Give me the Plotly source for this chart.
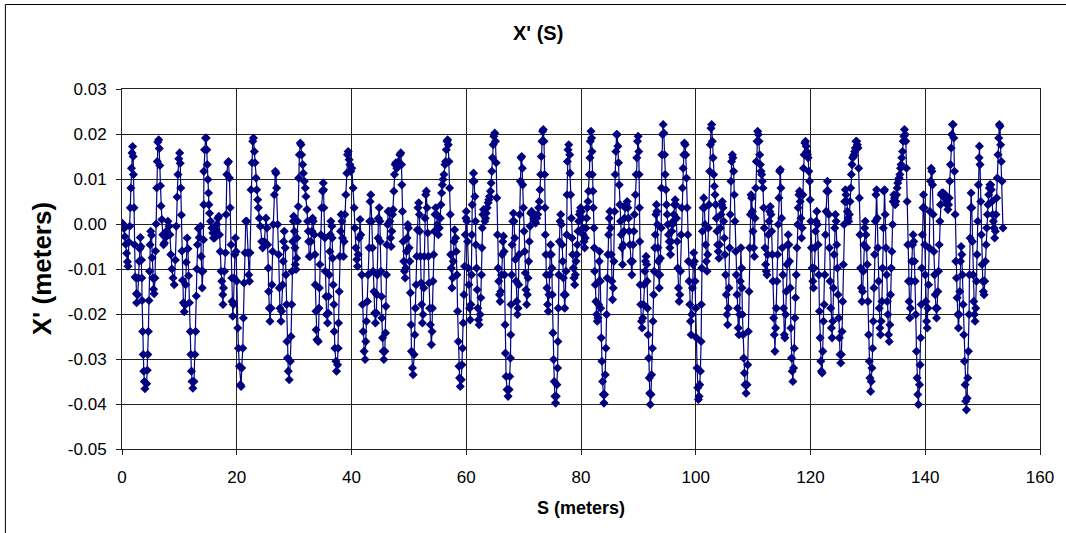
import plotly.graph_objects as go

# ---- data: (S in meters, X' in units of 1e-3 m) ----
seg_00_20 = [(0,0.2),(0.15,0.0),(0.35,-1.0),(0.5,-2.8),(0.65,-4.5),(0.8,-6.5),(0.95,-8.4),(1.05,-9.4),(1.2,-4.0),(1.35,-0.5),
(1.45,3.6),(1.55,8.0),(1.65,12.4),(1.75,15.8),(1.85,17.2),(1.95,15.0),(2.0,11.0),(2.1,3.6),(2.2,-4.6),(2.3,-11.8),
(2.45,-12.0),(2.5,-15.5),(2.55,-17.5),(2.75,-15.7),(2.85,-12.0),(3.0,-8.3),(3.1,-5.5),(3.2,-3.0),(3.3,-5.0),(3.4,-8.0),
(3.45,-12.0),(3.5,-17.0),(3.6,-23.9),(3.7,-29.0),(3.8,-32.7),(3.9,-35.0),(4.0,-36.6),(4.3,-35.5),(4.4,-32.5),(4.5,-29.0),
(4.6,-23.9),(4.7,-17.0),(4.8,-10.5),(4.9,-4.6),(5.0,-1.6),(5.15,-2.5),(5.25,-7.5),(5.35,-12.0),(5.5,-14.5),(5.6,-15.5),
(5.75,-12.0),(5.85,-6.0),(5.95,0.0),(6.05,8.0),(6.15,13.9),(6.25,18.2),(6.4,18.7),(6.5,16.8),(6.6,13.0),(6.7,8.5),
(6.8,4.0),(6.95,1.0),(7.1,-2.4),(7.25,-4.6),(7.4,-4.2),(7.6,-3.0),(7.8,-1.5),(8.0,0.6),(8.2,-0.5),(8.35,-2.4),
(8.5,-6.8),(8.7,-10.0),(8.9,-12.0),(9.1,-13.5),(9.3,-8.0),(9.45,-0.5),(9.6,6.0),(9.75,11.0),(9.9,14.5),(10.05,15.8),
(10.15,13.5),(10.25,8.0),(10.35,2.0),(10.45,-6.0),(10.55,-12.5),(10.7,-17.5),(10.85,-19.5),(11.0,-18.0),(11.1,-13.5),(11.2,-8.5),
(11.35,-3.1),(11.5,-5.5),(11.6,-11.5),(11.75,-17.5),(11.9,-23.9),(12.0,-29.0),(12.1,-32.7),(12.2,-35.0),(12.35,-36.5),(12.55,-35.0),
(12.7,-29.0),(12.85,-23.9),(12.95,-16.0),(13.05,-10.0),(13.15,-4.6),(13.3,-1.0),(13.45,-3.0),
(13.69,-0.5),(13.81,-7.2),(13.85,-10.5),(13.98,-14.2),(14.1,-10.5),(14.21,-3.5),(14.25,4.3),(14.27,11.7),(14.39,16.5),(14.56,19.1),
(14.68,19.1),(14.79,16.5),(14.85,13.2),(14.97,9.9),(15.08,6.9),(15.14,4.3),(15.26,2.4),(15.43,0.6),(15.66,-0.9),(15.84,-2.0),
(15.95,-3.1),(16.13,-3.1),(16.3,-2.4),(16.42,-1.3),(16.53,-0.1),(16.7,1.3),(16.88,1.7),(16.99,-2.4),(17.11,-6.1),(17.28,-10.5),
(17.4,-12.7),(17.57,-15.7),(17.6,-17.9),(17.69,-14.2),(17.86,-10.5),(18.04,-6.4),(18.15,2.1),(18.27,11.0),(18.44,13.6),(18.56,13.9),
(18.73,10.2),(18.85,3.6),(19.02,-4.6),(19.14,-12.0),(19.19,-17.2),(19.31,-20.5),(19.43,-17.9),(19.54,-12.0),(19.66,-6.8),(19.77,-3.1),
(19.89,-6.1),(20.0,-12.7)]

seg_20_40 = [(20.18,-23.1),(20.29,-27.6),(20.47,-31.6),(20.64,-35.7),(20.76,-36.1),(20.87,-32.0),(21.05,-27.6),(21.16,-20.9),(21.28,-13.1),(21.45,-6.4),
(21.57,0.6),(21.74,0.6),(21.92,-6.4),(22.09,-11.3),(22.21,-12.7),(22.32,-6.4),(22.49,7.6),(22.67,13.6),(22.78,18.4),(22.9,19.1),
(23.07,16.1),(23.19,13.6),(23.36,10.2),(23.48,7.6),(23.65,5.4),(23.77,3.6),(23.94,1.3),(24.12,-0.5),(24.35,-3.9),(24.52,-5.3),
(24.81,-3.9),(25.1,1.3),(25.27,-0.9),(25.39,-4.6),(25.51,-9.8),(25.56,-15.0),(25.68,-18.7),(25.79,-21.6),(25.97,-18.7),(26.14,-13.5),
(26.26,-6.1),(26.37,-0.1),(26.55,6.5),(26.72,11.7),(26.84,11.3),(26.95,8.0),(27.13,-0.1),(27.3,-6.8),(27.42,-14.2),(27.53,-18.7),
(27.71,-21.6),(27.82,-19.4),(28.0,-13.5),(28.11,-8.3),(28.17,-3.9),(28.28,-1.6),(28.46,-5.3),(28.57,-11.3),(28.69,-17.9),(28.75,-26.1),
(28.86,-29.8),(28.98,-32.7),(29.15,-34.6),
(29.34,-30.5),(29.46,-25.0),(29.58,-17.9),(29.63,-10.5),(29.75,-3.9),(29.86,0.6),(29.92,1.7),(30.04,-1.6),(30.15,-5.3),(30.21,-9.0),
(30.33,-10.1),(30.44,-7.6),(30.5,-3.1),(30.62,0.6),(30.73,3.9),(30.79,10.2),(30.91,15.4),(31.08,18.0),(31.2,17.6),(31.31,15.4),
(31.49,13.2),(31.6,11.3),(31.78,9.5),(31.95,8.0),(32.07,6.1),(32.24,3.2),(32.35,0.6),(32.47,-1.6),(32.53,-3.9),(32.64,-7.2),
(32.82,-7.2),(32.93,-3.9),(33.11,-1.6),(33.22,1.3),(33.34,0.6),(33.51,-2.4),(33.63,-6.8),(33.69,-13.5),(33.8,-19.4),(33.83,-23.5),
(33.98,-25.7),(34.21,-26.1),(34.32,-18.7),(34.38,-14.2),(34.5,-9.0),(34.67,-2.4),(34.79,3.6),(34.96,7.3),(35.08,9.1),(35.13,7.6),
(35.19,3.6),(35.37,-3.1),(35.42,-10.5),(35.54,-16.1),(35.65,-20.1),(35.83,-22.0),(35.94,-19.8),(36.0,-16.1),(36.12,-11.3),(36.23,-6.1),
(36.29,-2.4),(36.41,0.6),(36.58,-0.5),(36.64,-3.1),(36.7,-7.6),(36.81,-13.5),(36.93,-17.9),(36.99,-23.9),(37.1,-27.6),(37.28,-30.5),
(37.39,-32.7),(37.57,-31.3),(37.68,-27.6),(37.74,-22.0),(37.86,-15.0),(37.97,-7.2),(38.09,-1.6),(38.2,2.1),(38.32,0.6),(38.43,-3.1),
(38.61,-7.2),(38.72,-3.9),(38.84,2.1),(39.01,6.5),(39.19,11.3),(39.3,15.4),(39.42,16.1),(39.59,14.3),(39.71,13.2),(39.88,11.7)]

seg_40_60 = [(40.06,12.4),(40.29,8.0),(40.46,3.6),(40.58,-0.9),(40.75,-5.3),(40.92,-7.9),(41.04,-9.4),(41.16,-6.8),(41.33,-3.1),(41.5,1.0),
(41.62,-2.4),(41.79,-11.3),(41.91,-17.9),(42.02,-23.9),(42.2,-28.3),(42.37,-30.1),(42.49,-26.1),(42.6,-21.6),(42.78,-17.2),(42.89,-11.3),
(43.07,-5.3),(43.18,0.6),(43.24,5.0),(43.36,6.5),(43.53,0.6),(43.65,-5.3),(43.76,-10.5),(43.93,-15.0),(44.05,-19.8),(44.17,-22.0),
(44.34,-19.8),(44.4,-15.7),(44.51,-11.3),(44.63,-3.1),(44.69,1.3),(44.83,3.6),(44.95,0.6),(45.0,-3.9),(45.12,-10.5),(45.24,-16.1),
(45.29,-20.9),(45.41,-25.3),(45.52,-28.3),(45.64,-30.1),(45.81,-28.3),(45.93,-24.2),(45.99,-18.3),(46.1,-11.3),(46.16,-4.6),(46.28,-0.1),
(46.39,2.8),(46.57,2.8),(46.68,0.6),(46.8,-3.1),(46.91,-5.0),(47.03,-1.6),(47.15,2.1),(47.26,3.2),(47.38,7.3),(47.49,11.0),
(47.61,13.2),(47.73,13.6),(47.9,12.4),(48.01,12.8),(48.19,13.9),(48.42,15.4),(48.59,15.8),(48.71,13.2),(48.77,8.7),(48.88,2.8),
(49.0,-3.9),(49.11,-8.3),(49.23,-10.5),(49.35,-12.0),(49.46,-9.8),(49.58,-6.1),(49.69,-3.1),(49.81,-0.1),(49.93,-0.9),(50.04,-5.3),
(50.16,-8.3),(50.27,-15.3),(50.39,-22.4),(50.45,-28.3),(50.62,-32.0),(50.74,-33.5),(50.91,-29.0),(51.03,-24.6),(51.14,-18.7),(51.26,-13.5),
(51.37,-7.2),(51.49,-1.3),(51.6,3.6),(51.72,4.7),(51.84,2.1),(51.89,-1.6),(52.01,-7.2),(52.13,-13.1),(52.24,-17.9),(52.36,-22.0),
(52.47,-20.1),(52.59,-14.2),(52.7,-7.2),(52.82,1.3),(52.94,6.5),(53.05,7.3),(53.17,3.6),(53.28,-2.0),(53.4,-7.2),(53.52,-13.1),
(53.63,-18.7),(53.75,-22.4),(53.92,-26.8),(54.04,-23.9),(54.1,-18.7),(54.21,-12.7),(54.33,-6.8),(54.44,-1.6),(54.56,2.1),(54.67,3.6),
(54.85,2.1),(54.96,-0.1),(55.14,-2.4),(55.31,-0.9),(55.48,1.3),(55.6,4.3),(55.71,6.9),(55.83,8.7),(55.95,9.9),(56.12,11.0),
(56.29,13.2),(56.41,13.9),(56.53,16.5),(56.64,18.4),(56.76,18.7),(56.87,17.6),(56.99,13.9),(57.1,8.0),(57.22,2.1),(57.28,-6.8),
(57.39,-9.8),(57.51,-14.2),(57.63,-12.0),(57.74,-8.3),(57.86,-3.9),(57.97,-1.3),(58.15,-3.1),(58.26,-6.1),(58.38,-11.3),(58.49,-19.4),
(58.61,-26.1),(58.73,-31.6),(58.84,-34.2),(58.96,-36.1),(59.13,-34.6),(59.25,-31.3),(59.36,-27.6),(59.48,-22.0),(59.59,-15.7),(59.71,-9.4),
(59.83,-2.4),(59.94,1.3)]

seg_60_80 = [(60.0,2.8),(60.12,0.6),(60.23,-3.9),(60.35,-9.8),(60.46,-13.5),(60.58,-18.7),(60.69,-21.3),(60.81,-17.9),(60.92,-11.3),(60.98,-2.4),
(61.04,4.3),(61.15,9.5),(61.27,11.3),(61.39,9.5),(61.5,6.1),(61.62,0.6),(61.68,-4.6),(61.79,-9.8),(61.91,-14.6),(62.02,-18.7),
(62.14,-21.3),(62.25,-22.4),(62.43,-20.1),(62.54,-16.4),(62.66,-11.3),(62.72,-5.3),(62.78,-0.9),(62.89,2.1),(63.01,3.2),(63.12,2.1),
(63.24,0.6),(63.36,1.3),(63.47,2.4),(63.64,3.6),(63.82,4.7),(63.93,5.4),(64.05,6.1),(64.22,7.3),(64.34,9.1),(64.46,11.7),
(64.57,14.7),(64.69,17.6),(64.8,19.5),(64.98,20.2),(65.09,18.4),(65.21,13.6),(65.32,5.8),(65.44,-2.4),(65.56,-9.8),(65.67,-12.7),
(65.79,-15.7),(65.9,-17.2),(66.02,-15.0),(66.13,-11.3),(66.25,-6.8),(66.37,-3.9),(66.48,-2.7),(66.6,-6.1),(66.66,-11.3),(66.77,-22.4),
(66.83,-28.7),(66.94,-33.9),(67.12,-36.8),(67.29,-38.3),(67.47,-36.8),(67.58,-33.9),(67.7,-29.8),(67.76,-24.6),(67.81,-17.9),(67.93,-11.3),
(67.99,-4.6),(68.1,0.6),(68.22,2.4),(68.33,0.6),(68.45,-3.1),(68.57,-7.9),(68.68,-12.7),(68.8,-17.2),(68.91,-20.1),(69.03,-18.7),
(69.15,-13.5),(69.2,-6.8),(69.32,2.1),(69.43,9.5),(69.55,14.7),(69.67,15.0),(69.78,12.4),(69.84,8.7),(69.96,3.6),(70.07,-1.6),
(70.19,-6.1),(70.3,-10.9),(70.42,-14.6),(70.53,-17.9),(70.65,-15.7),(70.77,-12.0),(70.88,-8.3),(71.0,-3.9),(71.11,-0.5),(71.23,2.4),
(71.4,2.8),(71.58,2.1),(71.75,1.3),(71.92,0.6),(72.1,0.2),(72.27,1.3),(72.45,2.1),(72.62,3.6),(72.73,5.0),(72.85,7.6),
(72.97,11.0),(73.08,15.0),(73.2,18.4),(73.31,20.6),(73.43,21.0),(73.55,18.4),(73.66,11.0),(73.72,3.6),(73.78,-2.4),(73.89,-6.8),
(73.95,-11.3),(74.07,-14.2),(74.18,-17.9),(74.3,-19.4),(74.41,-15.7),(74.53,-11.3),(74.59,-6.8),(74.7,-4.6),(74.82,-6.8),(74.93,-9.8),
(74.99,-15.7),(75.11,-24.2),(75.22,-30.1),(75.34,-35.0),(75.46,-38.3),(75.57,-39.8),(75.69,-38.3),(75.8,-35.7),(75.92,-32.0),(75.98,-26.1),
(76.04,-18.7),(76.12,-11.3),(76.24,-3.9),(76.35,0.6),(76.47,2.1),(76.58,-0.1),(76.7,-4.6),(76.81,-8.3),(76.93,-12.0),(77.05,-15.7),
(77.16,-18.7),(77.28,-15.7),(77.39,-10.5),(77.51,-2.4),(77.57,6.5),(77.63,13.9),(77.74,16.5),(77.86,17.6),(78.03,15.4),(78.09,11.3),
(78.2,6.5),(78.32,1.3),(78.44,-3.1),(78.55,-6.8),(78.67,-9.8),(78.78,-12.0),(78.9,-13.5),(79.02,-11.3),(79.13,-8.3),(79.25,-6.8),
(79.36,-4.6),(79.48,-1.6),(79.59,0.6),(79.71,2.1),(79.83,2.8),(79.94,3.6)]

seg_80_100 = [(80.06,2.8),(80.17,1.3),(80.29,-0.9),(80.4,-2.4),(80.52,-3.9),(80.64,-5.3),(80.75,-3.1),(80.87,-0.9),(80.98,1.3),(81.1,3.6),
(81.22,5.0),(81.33,7.3),(81.45,11.0),(81.56,14.7),(81.62,18.4),(81.74,20.6),(81.85,19.1),(81.91,16.1),(81.97,11.0),(82.08,7.3),
(82.14,3.6),(82.26,-0.9),(82.32,-5.3),(82.37,-10.5),(82.49,-13.5),(82.6,-17.2),(82.72,-20.1),(82.84,-21.6),(82.95,-20.9),(83.07,-17.9),
(83.13,-12.7),(83.18,-8.3),(83.24,-6.1),(83.36,-12.7),(83.42,-18.7),(83.53,-25.3),(83.65,-30.5),(83.76,-35.0),(83.88,-37.9),(84.0,-39.8),
(84.11,-37.9),(84.23,-33.5),(84.34,-27.6),(84.46,-20.1),(84.57,-12.0),(84.69,-6.8),(84.81,-2.4),(84.92,1.3),(85.04,2.8),(85.15,-0.9),
(85.27,-6.8),(85.38,-12.7),(85.5,-16.8),(85.62,-14.2),(85.73,-8.3),(85.85,2.8),(85.96,11.0),(86.08,16.1),(86.19,19.9),(86.31,19.9),
(86.43,17.3),(86.54,13.6),(86.66,8.7),(86.77,4.3),(86.89,0.6),(87.01,-2.4),(87.12,-5.3),(87.24,-9.0),(87.35,-4.6),(87.47,-1.6),
(87.58,1.3),(87.7,3.6),(87.87,4.3),(88.05,5.0),(88.16,3.6),(88.28,1.3),(88.39,-1.6),(88.51,-4.6),(88.68,-8.3),(88.86,-11.3),
(88.97,-8.3),(89.09,-4.6),(89.21,-1.6),(89.32,2.1),(89.49,6.5),(89.61,11.0),(89.73,14.7),(89.84,18.4),(89.96,19.5),(90.07,16.1),
(90.13,11.0),(90.19,3.6),(90.25,-3.9),(90.31,-13.5),(90.42,-17.9),(90.54,-21.6),(90.65,-23.1),(90.77,-20.9),(90.88,-17.9),(91.0,-13.5),
(91.12,-10.5),(91.23,-8.3),(91.35,-7.2),(91.46,-9.0),(91.52,-12.7),(91.58,-18.7),(91.7,-24.6),(91.81,-29.8),(91.9,-34.2),(91.98,-37.6),
(92.08,-40.1),(92.2,-37.9),(92.3,-33.5),(92.45,-27.6),(92.55,-21.6),(92.65,-15.7),(92.75,-10.5),(92.85,-5.3),(92.95,-2.4),(93.05,2.1),
(93.15,4.3),(93.23,2.8),(93.32,-0.1),(93.4,-5.3),(93.48,-8.3),(93.56,-11.3),(93.64,-14.2),(93.74,-11.3),(93.84,-7.6),(93.98,-0.9),
(94.03,8.0),(94.09,15.4),(94.21,19.9),(94.32,22.1),(94.44,20.2),(94.56,15.4),(94.67,11.0),(94.79,7.6),(94.9,4.3),(95.02,2.1),
(95.13,-0.1),(95.25,-2.4),(95.37,-3.9),(95.48,-5.3),(95.6,-6.8),(95.71,-3.9),(95.83,-1.6),(95.94,-0.1),(96.06,0.6),(96.18,2.1),
(96.29,4.3),(96.41,5.4),(96.52,4.3),(96.64,1.3),(96.76,-3.9),(96.87,-9.8),(96.99,-14.2),(97.1,-17.2),(97.22,-15.7),(97.33,-10.5),
(97.45,-2.4),(97.57,3.6),(97.68,8.0),(97.8,12.4),(97.91,15.4),(98.03,18.0),(98.14,17.6),(98.26,15.4),(98.38,10.2),(98.49,3.6),
(98.61,-2.4),(98.72,-8.3),(98.84,-12.7),(98.96,-17.9),(99.07,-21.6),(99.19,-24.6),(99.3,-20.1),(99.42,-14.2),(99.53,-9.0),(99.65,-6.4),
(99.77,-8.3),(99.88,-12.7)]

seg_100_120 = [(100.0,-18.7),(100.12,-25.3),(100.23,-32.0),(100.35,-36.4),(100.46,-39.0),(100.58,-38.3),(100.69,-35.7),(100.81,-32.7),(100.93,-26.1),(100.98,-17.9),
(101.04,-9.8),(101.16,-1.6),(101.27,3.6),(101.39,5.8),(101.5,3.6),(101.62,-0.1),(101.73,-4.6),(101.85,-8.3),(101.97,-10.5),(102.08,-6.8),
(102.2,-0.9),(102.31,4.3),(102.43,11.7),(102.55,17.6),(102.66,21.3),(102.78,22.1),(102.89,18.4),(103.01,14.7),(103.12,11.0),(103.24,8.4),
(103.36,6.5),(103.47,4.3),(103.59,1.3),(103.7,-1.6),(103.82,-4.6),(103.93,-6.1),(104.05,-7.6),(104.17,-4.6),(104.28,-0.9),(104.4,2.1),
(104.51,4.3),(104.63,5.0),(104.75,3.6),(104.86,0.6),(104.98,-3.1),(105.09,-6.8),(105.21,-11.3),(105.32,-15.7),(105.44,-20.1),(105.56,-22.4),
(105.67,-18.7),(105.79,-14.2),(105.9,-5.3),(106.02,2.1),(106.14,9.5),(106.25,13.9),(106.37,15.4),(106.48,14.7),(106.6,11.7),(106.71,6.5),
(106.83,0.6),(106.95,-6.1),(107.06,-11.3),(107.18,-15.7),(107.29,-18.7),(107.41,-23.1),(107.52,-24.6),(107.64,-20.1),(107.76,-12.7),(107.87,-5.3),
(108.0,-9.8),(108.06,-14.2),(108.13,-20.1),(108.25,-24.6),(108.36,-29.8),(108.48,-33.1),(108.59,-35.7),(108.77,-37.6),(108.94,-35.7),(109.06,-31.3),
(109.17,-23.9),(109.29,-15.0),(109.4,-5.3),(109.52,2.1),(109.64,6.5),(109.75,5.8),(109.87,2.8),(109.98,-1.6),(110.1,-5.3),(110.22,-7.2),
(110.33,1.3),(110.45,8.0),(110.56,13.9),(110.68,18.4),(110.79,20.6),(110.91,19.9),(111.03,18.4),(111.14,15.4),(111.26,13.2),(111.37,11.7),
(111.49,11.0),(111.6,9.5),(111.72,8.0),(111.84,3.6),(111.95,-0.9),(112.07,-5.3),(112.18,-9.0),(112.3,-10.5),(112.42,-11.3),(112.53,-6.8),
(112.65,-2.4),(112.76,0.6),(112.88,2.8),(112.99,3.9),(113.11,2.1),(113.23,-1.6),(113.34,-6.8),(113.46,-12.7),(113.57,-20.9),(113.69,-24.6),
(113.8,-28.3),(113.92,-23.1),(114.04,-18.7),(114.15,-12.7),(114.27,-6.8),(114.38,-0.1),(114.5,5.8),(114.62,11.7),(114.73,12.1),(114.85,8.0),
(114.96,1.3),(115.08,-5.3),(115.19,-11.3),(115.31,-18.7),(115.43,-24.6),(115.54,-25.3),(115.66,-20.1),(115.77,-15.0),(115.89,-9.0),(116.0,-4.6),
(116.12,-2.4),(116.24,-4.6),(116.35,-8.3),(116.47,-14.2),(116.58,-23.1),(116.7,-29.8),(116.82,-32.7),(116.93,-35.0),(117.05,-32.0),(117.16,-27.6),
(117.28,-20.9),(117.39,-16.4),(117.51,-11.3),(117.63,-5.3),(117.74,-0.1),(117.86,3.6),(117.97,6.5),(118.09,7.3),(118.21,5.0),(118.32,1.3),
(118.44,-3.1),(118.55,-0.9),(118.67,6.5),(118.78,12.4),(118.9,15.4),(119.02,18.0),(119.13,18.4),(119.25,17.3),(119.36,16.1),(119.48,15.4),
(119.59,14.7),(119.71,11.7),(119.83,9.5),(119.94,5.4)]

seg_120_140 = [(120.06,0.6),(120.17,-5.3),(120.29,-9.8),(120.41,-12.7),(120.52,-14.2),(120.64,-9.8),(120.75,-5.3),(120.87,-1.6),(120.98,0.6),(121.1,2.8),
(121.22,-0.1),(121.33,-4.6),(121.45,-11.3),(121.56,-19.4),(121.68,-25.3),(121.8,-30.5),(121.91,-32.7),(122.03,-33.1),(122.14,-28.3),(122.26,-21.6),
(122.38,-17.9),(122.49,-11.3),(122.61,-2.4),(122.72,2.8),(122.84,7.3),(122.95,9.5),(123.07,7.3),(123.18,2.1),(123.3,-5.3),(123.41,-12.7),
(123.53,-18.7),(123.64,-23.1),(123.76,-25.3),(123.88,-21.6),(123.99,-14.2),(124.11,-6.8),(124.22,-0.9),(124.34,2.1),(124.46,0.6),(124.57,-4.6),
(124.69,-9.8),(124.8,-15.7),(124.92,-20.9),(125.03,-25.3),(125.15,-29.0),(125.27,-30.9),(125.38,-29.0),(125.5,-23.9),(125.61,-17.2),(125.73,-9.0),
(125.85,-0.1),(125.96,5.0),(126.08,7.6),(126.19,6.5),(126.31,5.0),(126.42,2.8),(126.54,1.3),(126.66,0.6),(126.77,2.1),(126.89,5.0),
(127.0,8.0),(127.12,11.0),(127.23,13.2),(127.35,14.7),(127.47,15.0),(127.58,15.4),(127.7,16.1),(127.81,16.9),(127.93,18.4),(128.05,18.4),
(128.16,17.6),(128.28,16.9),(128.39,12.4),(128.51,5.8),(128.62,-2.4),(128.74,-9.8),(128.86,-14.2),(128.97,-17.2),(129.09,-15.0),(129.2,-10.5),
(129.32,-4.6),(129.43,-0.9),(129.55,0.6),(129.67,-2.4),(129.78,-5.3),(129.9,-9.0),(130.01,-17.2),(130.13,-24.6),(130.25,-30.5),(130.36,-34.2),
(130.48,-37.2),(130.59,-35.0),(130.71,-32.0),(130.82,-27.6),(130.94,-21.6),(131.06,-14.2),(131.17,-6.8),(131.29,0.6),(131.4,6.5),(131.52,7.6),
(131.64,1.3),(131.75,-5.3),(131.87,-12.7),(131.98,-18.7),(132.1,-23.1),(132.21,-24.6),(132.33,-21.6),(132.45,-17.2),(132.56,-9.8),(132.68,-0.9),
(132.79,7.3),(132.91,7.6),(133.02,2.1),(133.14,-5.3),(133.26,-11.3),(133.37,-17.2),(133.49,-20.1),(133.6,-24.6),(133.72,-26.1),(133.84,-22.4),
(133.95,-15.7),(134.07,-9.8),(134.18,-6.1),(134.3,-0.1),(134.41,5.0),(134.53,6.5),(134.65,5.8),(134.76,4.3),(134.88,5.0),(134.99,6.5),
(135.11,8.0),(135.22,9.1),(135.34,9.9),(135.46,10.2),(135.57,11.0),(135.69,12.4),(135.8,13.2),(135.92,14.7),(136.04,16.1),(136.15,18.4),
(136.27,19.5),(136.38,21.0),(136.5,19.9),(136.61,18.4),(136.73,12.4),(136.84,5.0),(136.96,-4.6),(137.08,-12.7),(137.19,-17.2),(137.31,-20.9),
(137.42,-18.7),(137.54,-12.7),(137.66,-8.3),(137.77,-4.6),(137.89,-2.4),(138.0,-3.9),(138.12,-8.3),(138.24,-12.7),(138.35,-20.1),(138.47,-28.3),
(138.58,-34.2),(138.7,-37.9),(138.81,-40.1),(139.0,-35.7),(139.1,-31.3),(139.2,-25.3),(139.3,-17.9),(139.4,-9.8),(139.5,-2.4),(139.6,3.6),
(139.7,6.5),(139.8,3.6),(139.9,-4.6)]

seg_140_154 = [(140.0,-11.3),(140.12,-17.2),(140.23,-21.6),(140.35,-23.1),(140.46,-18.7),(140.58,-13.5),(140.69,-5.3),(140.81,2.8),(140.93,9.5),(141.04,12.4),
(141.16,11.7),(141.27,8.7),(141.39,2.1),(141.5,-6.1),(141.62,-11.3),(141.74,-15.7),(141.85,-18.7),(141.97,-20.9),(142.08,-18.7),(142.2,-15.0),
(142.31,-10.5),(142.43,-4.6),(142.55,0.6),(142.66,4.3),(142.78,6.5),(142.89,6.9),(143.01,6.9),(143.13,6.9),(143.24,6.5),(143.36,5.8),
(143.47,6.5),(143.59,5.8),(143.7,5.0),(143.82,4.3),(143.94,3.2),(144.05,4.3),(144.17,5.8),(144.28,9.5),(144.4,13.2),(144.52,16.9),
(144.63,19.9),(144.75,22.1),(144.86,22.1),(144.98,19.1),(145.09,11.7),(145.21,2.1),(145.33,-8.3),(145.44,-12.0),(145.56,-16.4),(145.67,-20.1),
(145.79,-23.1),(145.91,-20.1),(146.02,-15.0),(146.14,-8.3),(146.25,-5.0),(146.37,-6.8),(146.48,-11.3),(146.6,-17.9),(146.72,-24.6),(146.83,-30.5),
(146.95,-35.7),(147.06,-39.4),(147.18,-41.3),(147.3,-38.7),(147.41,-34.2),(147.53,-28.3),(147.64,-20.1),(147.7,-11.3),(147.82,-3.1),(147.93,3.6),
(147.99,6.9),(148.11,3.6),(148.22,-3.9),(148.34,-11.3),(148.45,-17.2),(148.57,-20.1),(148.68,-21.6),(148.8,-18.7),(148.92,-12.7),(149.03,-6.8),
(149.15,0.6),(149.26,8.7),(149.38,14.7),(149.44,17.3),(149.55,13.2),(149.67,5.0),(149.78,-2.4),(149.9,-9.0),(150.02,-12.7),(150.13,-15.0),
(150.25,-15.7),(150.36,-12.7),(150.48,-8.3),(150.59,-4.6),(150.71,-0.9),(150.83,2.1),(150.94,4.3),(151.06,6.5),(151.17,8.0),(151.29,8.7),
(151.41,8.7),(151.52,7.6),(151.64,5.0),(151.75,2.1),(151.87,0.6),(151.98,-0.9),(152.1,-3.1),(152.22,-1.6),(152.33,2.1),(152.45,5.8),
(152.56,10.2),(152.68,15.4),(152.8,19.1),(152.91,22.1),(153.03,21.7),(153.14,17.6),(153.26,13.9),(153.38,9.5),(153.55,-0.9)]

x_tick_vals = [0, 20, 40, 60, 80, 100, 120, 140, 160]
y_tick_vals = [0.03, 0.02, 0.01, 0.0, -0.01, -0.02, -0.03, -0.04, -0.05]
y_tick_text = ["0.03", "0.02", "0.01", "0.00", "-0.01", "-0.02", "-0.03", "-0.04", "-0.05"]

segments = [seg_00_20, seg_20_40, seg_40_60, seg_60_80, seg_80_100, seg_100_120, seg_120_140, seg_140_154]
s_vals = [p[0] for seg in segments for p in seg]
xp_vals = [p[1] / 1000.0 for seg in segments for p in seg]

NAVY = "#000080"
FONT = "Arial, Liberation Sans, Helvetica, sans-serif"
GRID = "#222222"

fig = go.Figure()
fig.add_trace(go.Scatter(
    x=s_vals, y=xp_vals, mode="lines+markers",
    line=dict(color=NAVY, width=1.2),
    marker=dict(symbol="diamond", size=7, color=NAVY, line=dict(width=0)),
    showlegend=False, hoverinfo="x+y"))

L, R, T, B = 122, 23, 89, 84
W, H = 1066, 533
pw, ph = W - L - R, H - T - B

def px_x(px):
    return (px - L) / pw

def px_y(py):
    return (H - B - py) / ph

fig.update_layout(
    width=W, height=H,
    margin=dict(l=L, r=R, t=T, b=B, pad=0),
    paper_bgcolor="white", plot_bgcolor="white",
    font=dict(family=FONT, color="black", size=16),
    xaxis=dict(range=[0, 160], tickvals=x_tick_vals, showgrid=True, gridcolor=GRID, gridwidth=1,
               zeroline=False, showline=True, linecolor=GRID, linewidth=1, mirror=True,
               ticks="outside", ticklen=5, tickcolor=GRID, tickfont=dict(size=17),
               ticklabelstandoff=8),
    yaxis=dict(range=[-0.05, 0.03], tickvals=y_tick_vals, ticktext=y_tick_text, showgrid=True,
               gridcolor=GRID, gridwidth=1, zeroline=False, showline=True, linecolor=GRID,
               linewidth=1, mirror=True, ticks="outside", ticklen=5, tickcolor=GRID,
               tickfont=dict(size=17), ticklabelstandoff=6),
    annotations=[
        dict(text="<b>X' (S)</b>", x=px_x(539), y=px_y(33), xref="paper", yref="paper",
             showarrow=False, xanchor="center", yanchor="middle", font=dict(size=20)),
        dict(text="<b>S (meters)</b>", x=px_x(582), y=px_y(508), xref="paper", yref="paper",
             showarrow=False, xanchor="center", yanchor="middle", font=dict(size=18)),
        dict(text="<b>X' (meters)</b>", x=px_x(42), y=px_y(269), xref="paper", yref="paper",
             showarrow=False, xanchor="center", yanchor="middle", textangle=-90, font=dict(size=26)),
    ],
    shapes=[dict(type="rect", xref="paper", yref="paper", x0=px_x(5), x1=px_x(1075),
                 y0=px_y(545), y1=px_y(4.5), line=dict(color="black", width=1), layer="below")],
)

fig.write_html("out.html")
